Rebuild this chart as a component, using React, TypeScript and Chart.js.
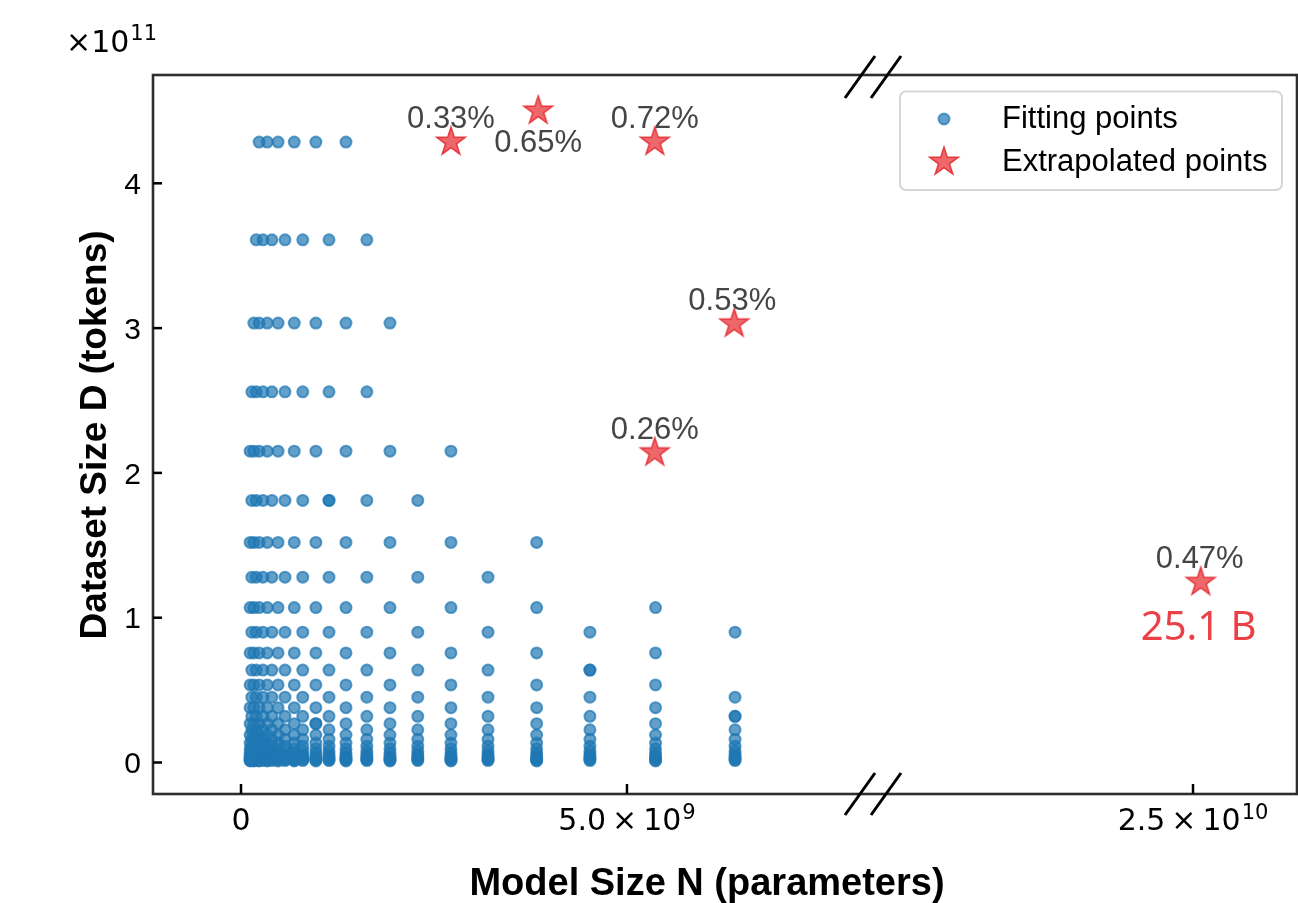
import React, { useEffect, useRef } from 'react';
import { Chart, registerables } from 'chart.js';

Chart.register(...registerables);

// ---------------- data ----------------
// model sizes N (parameters), one entry per column of fitting points (largest first)
const MODEL_SIZES = [
  6.40e9, 5.37e9, 4.52e9, 3.83e9, 3.20e9, 2.72e9, 2.29e9, 1.93e9, 1.63e9, 1.36e9,
  1.14e9, 0.97e9, 0.80e9, 0.69e9, 0.57e9, 0.48e9, 0.40e9, 0.34e9, 0.285e9, 0.235e9,
  0.197e9, 0.166e9, 0.14e9, 0.118e9,
];
// dataset sizes D (tokens), one entry per row of fitting points (largest first)
const DATASET_SIZES = [
  4.285e11, 3.61e11, 3.035e11, 2.56e11, 2.15e11, 1.81e11, 1.52e11, 1.28e11, 1.07e11, 0.90e11,
  0.757e11, 0.638e11, 0.536e11, 0.451e11, 0.379e11, 0.319e11, 0.268e11, 0.226e11, 0.190e11, 0.160e11,
  0.134e11, 0.113e11, 0.095e11, 0.080e11, 0.067e11, 0.057e11, 0.048e11, 0.040e11, 0.034e11, 0.028e11,
  0.024e11, 0.020e11, 0.016e11, 0.013e11, 0.011e11,
];
// topmost row index used by each column (the runs interleave: a column only uses every other row)
const TOP_ROW = [9, 8, 9, 6, 7, 4, 5, 2, 1, 0, 1, 0, 1, 0, 1, 0, 1, 0, 1, 0, 1, 2, 3, 4];
// [column, row] cells that are missing / that hold two runs
const SKIPPED = [[0, 11]];
const DOUBLED = [[10, 5], [2, 11], [0, 15], [11, 16]];

// extrapolated points (left part of the broken axis)
const EXTRAP_N = [2.72e9, 3.85e9, 5.36e9, 6.39e9, 5.36e9];
const EXTRAP_D = [4.285e11, 4.50e11, 4.285e11, 3.03e11, 2.14e11];
const EXTRAP_ERR = ['0.33%', '0.65%', '0.72%', '0.53%', '0.26%'];
// extrapolated point on the right part of the broken axis
const FAR_N = [2.51e10];
const FAR_D = [1.245e11];
const FAR_ERR = ['0.47%'];
const FAR_SIZE_LABEL = '25.1 B';

const Y_TICKS = [0, 1e11, 2e11, 3e11, 4e11];
const Y_TICK_LABELS = ['0', '1', '2', '3', '4'];
const Y_OFFSET_EXP = '11';
const X_TICKS = [0, 5e9];
const X_TICK_LABELS = [{ base: '0', sup: '' }, { base: '5.0\u2009×\u200910', sup: '9' }];
const X2_TICKS = [2.5e10];
const X2_TICK_LABELS = [{ base: '2.5\u2009×\u200910', sup: '10' }];

const X_TITLE = 'Model Size N (parameters)';
const Y_TITLE = 'Dataset Size D (tokens)';
const LEGEND_LABELS = ['Fitting points', 'Extrapolated points'];

// ---------------- styles ----------------
const BLUE_FILL = 'rgba(31,119,180,0.7)';
const BLUE_EDGE = 'rgba(31,119,180,0.7)';
const STAR_FILL = 'rgba(232,44,50,0.72)';
const STAR_EDGE = 'rgba(228,36,42,0.85)';
const SIZE_RED = 'rgb(236,64,72)';
const ANNOT_GRAY = '#454545';
// label baseline offsets relative to star centre
const EXTRAP_LABEL_DY = [-14, 41, -14, -14, -14];
const EXTRAP_LABEL_DX = [0, 0, 0, -2, 0];

function makeStar(R: number): HTMLCanvasElement {
  const size = Math.ceil(2 * R + 4);
  const c = document.createElement('canvas');
  c.width = size;
  c.height = size;
  const g = c.getContext('2d') as CanvasRenderingContext2D;
  const cx = size / 2;
  const cy = size / 2;
  g.beginPath();
  for (let i = 0; i < 10; i++) {
    const r = i % 2 === 0 ? R : R * 0.381966;
    const a = -Math.PI / 2 + (i * Math.PI) / 5;
    const px = cx + r * Math.cos(a);
    const py = cy + r * Math.sin(a);
    if (i === 0) g.moveTo(px, py);
    else g.lineTo(px, py);
  }
  g.closePath();
  g.fillStyle = STAR_FILL;
  g.fill();
  g.lineWidth = 1.5;
  g.lineJoin = 'miter';
  g.strokeStyle = STAR_EDGE;
  g.stroke();
  return c;
}

function drawMath(
  ctx: CanvasRenderingContext2D,
  cx: number,
  baseline: number,
  base: string,
  sup: string,
  size: number,
  align: 'center' | 'left' = 'center'
) {
  ctx.textAlign = 'left';
  ctx.textBaseline = 'alphabetic';
  ctx.font = `${size}px "DejaVu Sans"`;
  const w1 = ctx.measureText(base).width;
  const supSize = size * 0.7;
  ctx.font = `${supSize}px "DejaVu Sans"`;
  const w2 = sup ? ctx.measureText(sup).width + 1 : 0;
  const start = align === 'center' ? cx - (w1 + w2) / 2 : cx;
  ctx.font = `${size}px "DejaVu Sans"`;
  ctx.fillText(base, start, baseline);
  if (sup) {
    ctx.font = `${supSize}px "DejaVu Sans"`;
    ctx.fillText(sup, start + w1 + 1, baseline - size * 0.38);
  }
}

export default function App() {
  const canvasRef = useRef<HTMLCanvasElement | null>(null);

  useEffect(() => {
    const canvas = canvasRef.current;
    if (!canvas) return;
    const star = makeStar(15);

    const fittingPoints: { x: number; y: number }[] = [];
    MODEL_SIZES.forEach((n, c) => {
      DATASET_SIZES.forEach((d, r) => {
        if (r < TOP_ROW[c]) return;
        if ((r + c) % 2 === 0) return;
        if (SKIPPED.some(([sc, sr]) => sc === c && sr === r)) return;
        fittingPoints.push({ x: n, y: d });
      });
    });
    DOUBLED.forEach(([c, r]) => fittingPoints.push({ x: MODEL_SIZES[c], y: DATASET_SIZES[r] }));

    const extrap = EXTRAP_N.map((n, i) => ({ x: n, y: EXTRAP_D[i] }));
    const far = FAR_N.map((n, i) => ({ x: n, y: FAR_D[i] }));

    const decor = {
      id: 'decor',
      afterDraw(chart: any) {
        const ctx = chart.ctx as CanvasRenderingContext2D;
        const area = chart.chartArea;
        const xs = chart.scales.x;
        const xs2 = chart.scales.x2;
        const ys = chart.scales.y;
        ctx.save();

        // frame
        ctx.strokeStyle = '#2e2e2e';
        ctx.lineWidth = 2.6;
        ctx.strokeRect(area.left, area.top, area.right - area.left, area.bottom - area.top);

        // y ticks (inward) + labels
        ctx.strokeStyle = '#000';
        ctx.fillStyle = '#000';
        Y_TICKS.forEach((v, i) => {
          const py = ys.getPixelForValue(v);
          ctx.lineWidth = 2.5;
          ctx.beginPath();
          ctx.moveTo(area.left, py);
          ctx.lineTo(area.left + 9, py);
          ctx.stroke();
          ctx.font = '30px "Liberation Sans"';
          ctx.textAlign = 'right';
          ctx.textBaseline = 'alphabetic';
          ctx.fillText(Y_TICK_LABELS[i], area.left - 12, py + 10.7);
        });
        // offset text
        ctx.fillStyle = '#000';
        drawMath(ctx, 66, 51.7, '×10', Y_OFFSET_EXP, 30, 'left');

        // x ticks
        const xTickSets: [any, number[], { base: string; sup: string }[]][] = [
          [xs, X_TICKS, X_TICK_LABELS],
          [xs2, X2_TICKS, X2_TICK_LABELS],
        ];
        xTickSets.forEach(([sc, ticks, labels]) => {
          ticks.forEach((v, i) => {
            const px = sc.getPixelForValue(v);
            ctx.lineWidth = 2.5;
            ctx.strokeStyle = '#000';
            ctx.beginPath();
            ctx.moveTo(px, area.bottom);
            ctx.lineTo(px, area.bottom - 10);
            ctx.stroke();
            ctx.fillStyle = '#000';
            drawMath(ctx, px, 830, labels[i].base, labels[i].sup, 30);
          });
        });

        // axis break marks
        const split = xs.right;
        ctx.strokeStyle = '#000';
        ctx.lineWidth = 3;
        [area.top + 2, area.bottom].forEach((cy) => {
          [-13, 13].forEach((dx) => {
            ctx.beginPath();
            ctx.moveTo(split + dx - 15, cy + 21);
            ctx.lineTo(split + dx + 15, cy - 21);
            ctx.stroke();
          });
        });

        // axis titles
        ctx.fillStyle = '#000';
        ctx.font = 'bold 38px "Liberation Sans"';
        ctx.textAlign = 'center';
        ctx.textBaseline = 'alphabetic';
        ctx.fillText(X_TITLE, 707, 895);
        ctx.save();
        ctx.translate(96, 435);
        ctx.rotate(-Math.PI / 2);
        ctx.font = 'bold 37px "Liberation Sans"';
        ctx.textBaseline = 'middle';
        ctx.fillText(Y_TITLE, 0, 0);
        ctx.restore();

        // annotations
        const m1 = chart.getDatasetMeta(1);
        ctx.font = '31px "Liberation Sans"';
        ctx.fillStyle = ANNOT_GRAY;
        ctx.textAlign = 'center';
        ctx.textBaseline = 'alphabetic';
        m1.data.forEach((pt: any, i: number) => {
          ctx.fillText(EXTRAP_ERR[i], pt.x + EXTRAP_LABEL_DX[i], pt.y + EXTRAP_LABEL_DY[i]);
        });
        const m2 = chart.getDatasetMeta(2);
        m2.data.forEach((pt: any, i: number) => {
          ctx.font = '31px "Liberation Sans"';
          ctx.fillStyle = ANNOT_GRAY;
          ctx.fillText(FAR_ERR[i], pt.x - 1, pt.y - 14);
          ctx.font = '40px "Noto Sans"';
          ctx.fillStyle = SIZE_RED;
          ctx.fillText(FAR_SIZE_LABEL, pt.x - 2, pt.y + 58);
        });

        // legend
        const lx = 900, ly = 91.5, lw = 382, lh = 98.5, rad = 6;
        ctx.beginPath();
        ctx.moveTo(lx + rad, ly);
        ctx.arcTo(lx + lw, ly, lx + lw, ly + lh, rad);
        ctx.arcTo(lx + lw, ly + lh, lx, ly + lh, rad);
        ctx.arcTo(lx, ly + lh, lx, ly, rad);
        ctx.arcTo(lx, ly, lx + lw, ly, rad);
        ctx.closePath();
        ctx.fillStyle = 'rgba(255,255,255,0.8)';
        ctx.fill();
        ctx.strokeStyle = '#d6d6d6';
        ctx.lineWidth = 2;
        ctx.stroke();
        // markers
        ctx.beginPath();
        ctx.arc(944, 119, 5.5, 0, Math.PI * 2);
        ctx.fillStyle = BLUE_FILL;
        ctx.fill();
        ctx.lineWidth = 2;
        ctx.strokeStyle = BLUE_EDGE;
        ctx.stroke();
        ctx.drawImage(star, 944 - star.width / 2, 162 - star.height / 2);
        ctx.fillStyle = '#000';
        ctx.font = '31px "Liberation Sans"';
        ctx.textAlign = 'left';
        ctx.textBaseline = 'alphabetic';
        ctx.fillText(LEGEND_LABELS[0], 1002, 127.5);
        ctx.fillText(LEGEND_LABELS[1], 1002, 171);

        ctx.restore();
      },
    };

    const chart = new Chart(canvas, {
      type: 'scatter',
      data: {
        datasets: [
          {
            label: LEGEND_LABELS[0],
            data: fittingPoints,
            xAxisID: 'x',
            yAxisID: 'y',
            pointRadius: 5.5,
            pointHoverRadius: 5.5,
            pointBackgroundColor: BLUE_FILL,
            pointBorderColor: BLUE_EDGE,
            pointBorderWidth: 2,
          },
          {
            label: LEGEND_LABELS[1],
            data: extrap,
            xAxisID: 'x',
            yAxisID: 'y',
            pointStyle: star as any,
            pointRadius: 10,
            pointHoverRadius: 10,
          },
          {
            label: LEGEND_LABELS[1] + ' (far)',
            data: far,
            xAxisID: 'x2',
            yAxisID: 'y',
            pointStyle: star as any,
            pointRadius: 10,
            pointHoverRadius: 10,
          },
        ],
      },
      options: {
        animation: false,
        responsive: false,
        devicePixelRatio: 1,
        events: [],
        layout: { autoPadding: false, padding: { left: 153, right: 1, top: 75, bottom: 109 } },
        plugins: { legend: { display: false }, tooltip: { enabled: false } },
        scales: {
          x: {
            type: 'linear',
            display: false,
            position: 'bottom',
            min: -1.14e9,
            max: 8.187e9,
            stack: 'xbroken',
            stackWeight: 720,
          },
          x2: {
            type: 'linear',
            axis: 'x',
            display: false,
            position: 'bottom',
            min: 2.0855e10,
            max: 2.6347e10,
            stack: 'xbroken',
            stackWeight: 424,
          },
          y: {
            type: 'linear',
            display: false,
            min: -0.2175e11,
            max: 4.748e11,
          },
        } as any,
      } as any,
      plugins: [decor],
    });

    return () => chart.destroy();
  }, []);

  return (
    <div style={{ position: 'absolute', left: 0, top: 0, width: 1298, height: 903, background: '#fff' }}>
      <canvas ref={canvasRef} width={1298} height={903} style={{ display: 'block', width: 1298, height: 903 }} />
    </div>
  );
}
